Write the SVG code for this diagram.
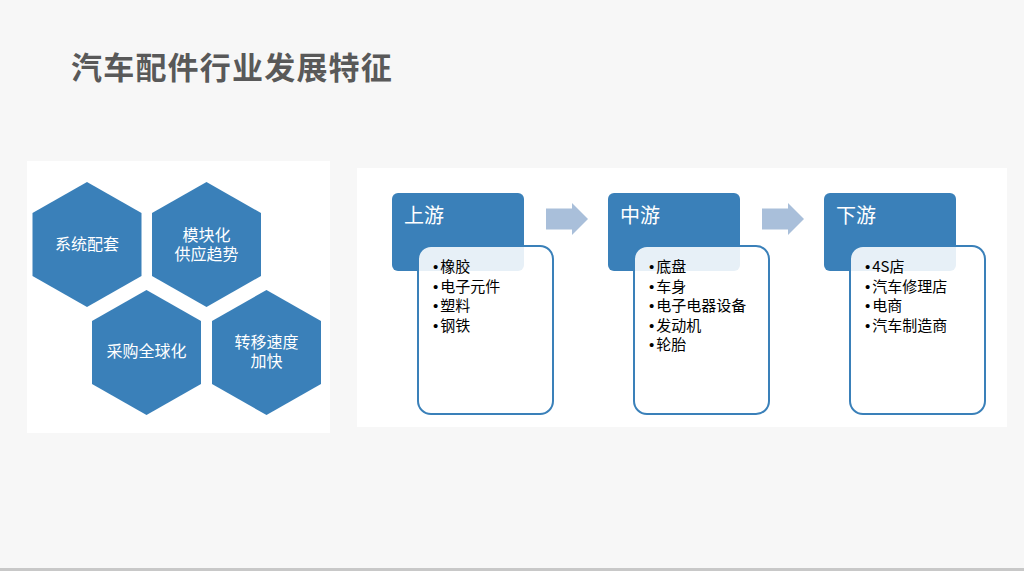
<svg xmlns="http://www.w3.org/2000/svg" width="1024" height="571" viewBox="0 0 1024 571">
  <defs>
    <style>
      .hex { fill: #3a80b9; }
      .hext { fill: #ffffff; font-family: "Noto Sans CJK SC", "Noto Sans", sans-serif; font-size: 16px; text-anchor: middle; }
      .head { fill: #3a80b9; }
      .headt { fill: #ffffff; font-family: "Noto Sans CJK SC", "Noto Sans", sans-serif; font-size: 20px; }
      .box { fill: #ffffff; fill-opacity: 0.88; stroke: #3a80b9; stroke-width: 2; }
      .item { fill: #000000; font-family: "Noto Sans CJK SC", "Noto Sans", sans-serif; font-size: 15px; }
      .b { font-family: "Liberation Sans", Arial, sans-serif; }
      .arrow { fill: #a9bfda; }
    </style>
  </defs>
  <rect x="0" y="0" width="1024" height="571" fill="#f7f7f7"/>
  <rect x="0" y="568" width="1024" height="3" fill="#c8c8c8"/>
  <text x="71" y="79" font-family="Noto Sans CJK SC, Noto Sans, sans-serif" font-size="31" font-weight="bold" fill="#595959" letter-spacing="1.2">汽车配件行业发展特征</text>

  <rect x="27" y="161" width="303" height="272" fill="#ffffff"/>
  <rect x="357" y="168" width="650" height="259" fill="#ffffff"/>

  <g id="hex1">
    <polygon class="hex" points="87,182 141.5,213 141.5,276 87,307 32.5,276 32.5,213"/>
    <text class="hext" x="87" y="250">系统配套</text>
  </g>
  <g id="hex2">
    <polygon class="hex" points="206.5,182 261,213 261,276 206.5,307 152,276 152,213"/>
    <text class="hext" x="206.5" y="241"><tspan x="206.5">模块化</tspan><tspan x="206.5" dy="19">供应趋势</tspan></text>
  </g>
  <g id="hex3">
    <polygon class="hex" points="146.5,290 201,321 201,384 146.5,415 92,384 92,321"/>
    <text class="hext" x="146.5" y="357">采购全球化</text>
  </g>
  <g id="hex4">
    <polygon class="hex" points="266.5,290 321,321 321,384 266.5,415 212,384 212,321"/>
    <text class="hext" x="266.5" y="348"><tspan x="266.5">转移速度</tspan><tspan x="266.5" dy="19">加快</tspan></text>
  </g>

  <g id="upstream">
    <rect class="head" x="392" y="193" width="132" height="78" rx="6"/>
    <text class="headt" x="404" y="223">上游</text>
    <rect class="box" x="418" y="246" width="135" height="168" rx="13"/>
    <text class="item" x="433" y="272"><tspan class="b">•</tspan><tspan dx="2">橡胶</tspan></text>
    <text class="item" x="433" y="291.5"><tspan class="b">•</tspan><tspan dx="2">电子元件</tspan></text>
    <text class="item" x="433" y="311"><tspan class="b">•</tspan><tspan dx="2">塑料</tspan></text>
    <text class="item" x="433" y="330.5"><tspan class="b">•</tspan><tspan dx="2">钢铁</tspan></text>
  </g>
  <g id="midstream">
    <rect class="head" x="608" y="193" width="132" height="78" rx="6"/>
    <text class="headt" x="620" y="223">中游</text>
    <rect class="box" x="634" y="246" width="135" height="168" rx="13"/>
    <text class="item" x="649" y="272"><tspan class="b">•</tspan><tspan dx="2">底盘</tspan></text>
    <text class="item" x="649" y="291.5"><tspan class="b">•</tspan><tspan dx="2">车身</tspan></text>
    <text class="item" x="649" y="311"><tspan class="b">•</tspan><tspan dx="2">电子电器设备</tspan></text>
    <text class="item" x="649" y="330.5"><tspan class="b">•</tspan><tspan dx="2">发动机</tspan></text>
    <text class="item" x="649" y="350"><tspan class="b">•</tspan><tspan dx="2">轮胎</tspan></text>
  </g>
  <g id="downstream">
    <rect class="head" x="824" y="193" width="132" height="78" rx="6"/>
    <text class="headt" x="836" y="223">下游</text>
    <rect class="box" x="850" y="246" width="135" height="168" rx="13"/>
    <text class="item" x="865" y="272"><tspan class="b">•</tspan><tspan dx="2">4S店</tspan></text>
    <text class="item" x="865" y="291.5"><tspan class="b">•</tspan><tspan dx="2">汽车修理店</tspan></text>
    <text class="item" x="865" y="311"><tspan class="b">•</tspan><tspan dx="2">电商</tspan></text>
    <text class="item" x="865" y="330.5"><tspan class="b">•</tspan><tspan dx="2">汽车制造商</tspan></text>
  </g>

  <g id="connectors">
    <polygon class="arrow" points="546,208.5 572,208.5 572,203 588,219 572,235 572,229.5 546,229.5"/>
    <polygon class="arrow" points="762,208.5 788,208.5 788,203 804,219 788,235 788,229.5 762,229.5"/>
  </g>
</svg>
